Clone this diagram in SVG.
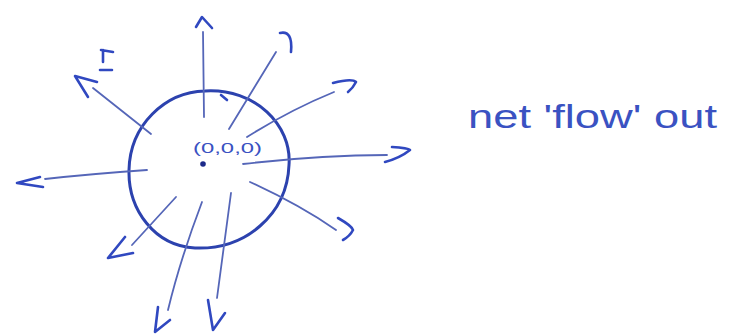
<svg xmlns="http://www.w3.org/2000/svg" width="741" height="336" viewBox="0 0 741 336">
<style>
.ray{fill:none;stroke:#5566b8;stroke-width:1.8;stroke-linecap:round}
.head{fill:none;stroke:#3048c0;stroke-width:2.6;stroke-linecap:round;stroke-linejoin:round}
.ink{font-family:"Liberation Sans","DejaVu Sans",sans-serif;fill:#3a52c2}
</style>
<rect width="741" height="336" fill="#ffffff"/>
<g id="sphere">
<path d="M205 91 C255 88 292 125 289 165 C287 215 245 250 195 248 C155 246 128 210 129 170 C130 125 165 92 205 91 Z" fill="none" stroke="#2c42ae" stroke-width="3"/>
<circle cx="203" cy="164" r="2.8" fill="#1c2a8a"/>
<text class="ink" x="193" y="153" font-size="14" textLength="69" lengthAdjust="spacingAndGlyphs">(0,0,0)</text>
<path d="M221 95 L227 100" class="head" stroke-width="1.5"/>
</g>
<g id="connectors">
<path class="ray" d="M204 117 L203 32"/><path class="head" d="M196 27 L202 17 L212 28"/>
<path class="ray" d="M229 129 L276 52"/><path class="head" d="M280 33 Q293 30 291 52"/>
<path class="ray" d="M247 137 Q290 110 334 92"/><path class="head" d="M333 83 Q352 78 356 82 Q353 88 348 92"/>
<path class="ray" d="M243 164 Q320 155 387 155"/><path class="head" d="M392 147 Q408 148 410 150 Q400 158 385 162"/>
<path class="ray" d="M250 182 Q300 205 336 230"/><path class="head" d="M338 218 Q352 226 353 230 Q350 236 343 240"/>
<path class="ray" d="M231 193 L217 298"/><path class="head" d="M208 300 L213 330 L225 313"/>
<path class="ray" d="M202 202 Q180 260 168 310"/><path class="head" d="M158 307 L155 332 L170 320"/>
<path class="ray" d="M176 197 L132 245"/><path class="head" d="M125 237 L108 258 L133 253"/>
<path class="ray" d="M147 170 Q90 174 45 179"/><path class="head" d="M40 177 L17 183 L43 187"/>
<path class="ray" d="M151 134 L93 88"/><path class="head" d="M97 82 L75 76 L88 97"/>
<path class="head" d="M101 50 L113 52 M103 50 L103 62 M100 70 L112 70"/>
</g>
<g id="label">
<text class="ink" x="468" y="128" font-size="34" textLength="249" lengthAdjust="spacingAndGlyphs">net 'flow' out</text>
</g>
</svg>
